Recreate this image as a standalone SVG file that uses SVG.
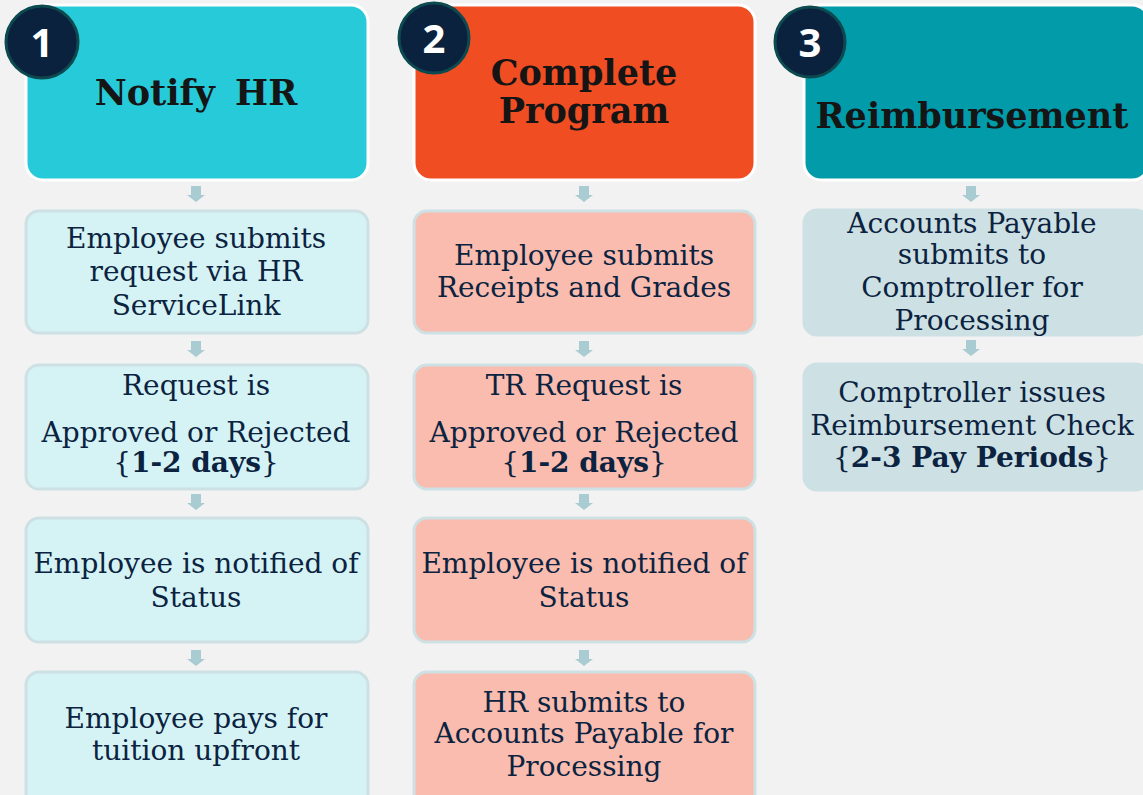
<svg xmlns="http://www.w3.org/2000/svg" width="1143" height="795" viewBox="0 0 1143 795">
<defs>
<style>
.bg{fill:#f2f2f2}
.hd{stroke:#ffffff;stroke-width:3}
.c1h{fill:#26cad8}.c2h{fill:#f04d23}.c3h{fill:#019baa}
.c1{fill:#d5f3f5;stroke:#cde0e3;stroke-width:3}
.c2{fill:#f9bcae;stroke:#cde0e3;stroke-width:3}
.c3{fill:#cde0e3;stroke:#cde0e3;stroke-width:3}
.t{font-family:"DejaVu Serif","Liberation Serif",serif;font-size:28px;fill:#0b2340;text-anchor:middle}
.b{font-weight:bold}
.h{font-family:"DejaVu Serif","Liberation Serif",serif;font-size:35px;font-weight:bold;fill:#151515;text-anchor:middle}
.badge{fill:#0b223f;stroke:#0d4a50;stroke-width:3}
.bn{font-family:"Open Sans","DejaVu Sans",sans-serif;font-size:40px;font-weight:bold;fill:#ffffff;text-anchor:middle}
.ar{fill:#a9cbd2}
</style>
<path id="arw" d="M-5,0 H5 V9 H9 L0,16 L-9,9 H-5 Z"/>
</defs>
<rect class="bg" x="0" y="0" width="1143" height="795"/>

<g id="connectors" class="ar">
<use href="#arw" x="196" y="186"/>
<use href="#arw" x="196" y="341"/>
<use href="#arw" x="196" y="494"/>
<use href="#arw" x="196" y="650"/>
<use href="#arw" x="584" y="186"/>
<use href="#arw" x="584" y="341"/>
<use href="#arw" x="584" y="494"/>
<use href="#arw" x="584" y="650"/>
<use href="#arw" x="971" y="186"/>
<use href="#arw" x="971" y="340"/>
</g>

<g id="header1">
<rect class="hd c1h" x="26" y="5" width="342" height="175" rx="17"/>
<text class="h" x="196" y="105" word-spacing="8">Notify HR</text>
</g>
<g id="header2">
<rect class="hd c2h" x="414" y="5" width="341" height="175" rx="17"/>
<text class="h" x="584" y="85">Complete</text>
<text class="h" x="584" y="123">Program</text>
</g>
<g id="header3">
<rect class="hd c3h" x="804" y="5" width="345" height="175" rx="17"/>
<text class="h" x="972" y="128">Reimbursement</text>
</g>

<g id="badge1"><circle class="badge" cx="42" cy="42" r="36"/><text class="bn" x="42" y="57">1</text></g>
<g id="badge2"><circle class="badge" cx="434" cy="38" r="35"/><text class="bn" x="434" y="53">2</text></g>
<g id="badge3"><circle class="badge" cx="810" cy="42" r="35"/><text class="bn" x="810" y="57">3</text></g>

<g id="n1a"><rect class="c1" x="26" y="211" width="342" height="122" rx="13"/>
<text class="t" x="196" y="248">Employee submits</text>
<text class="t" x="196" y="281">request via HR</text>
<text class="t" x="196" y="315">ServiceLink</text></g>
<g id="n1b"><rect class="c1" x="26" y="365" width="342" height="124" rx="13"/>
<text class="t" x="196" y="395">Request is</text>
<text class="t" x="196" y="442">Approved or Rejected</text>
<text class="t" x="196" y="472">{<tspan class="b">1-2 days</tspan>}</text></g>
<g id="n1c"><rect class="c1" x="26" y="518" width="342" height="124" rx="13"/>
<text class="t" x="196" y="573">Employee is notified of</text>
<text class="t" x="196" y="607">Status</text></g>
<g id="n1d"><rect class="c1" x="26" y="672" width="342" height="140" rx="13"/>
<text class="t" x="196" y="728">Employee pays for</text>
<text class="t" x="196" y="760">tuition upfront</text></g>

<g id="n2a"><rect class="c2" x="414" y="211" width="341" height="122" rx="13"/>
<text class="t" x="584" y="265">Employee submits</text>
<text class="t" x="584" y="297">Receipts and Grades</text></g>
<g id="n2b"><rect class="c2" x="414" y="365" width="341" height="124" rx="13"/>
<text class="t" x="584" y="395">TR Request is</text>
<text class="t" x="584" y="442">Approved or Rejected</text>
<text class="t" x="584" y="472">{<tspan class="b">1-2 days</tspan>}</text></g>
<g id="n2c"><rect class="c2" x="414" y="518" width="341" height="124" rx="13"/>
<text class="t" x="584" y="573">Employee is notified of</text>
<text class="t" x="584" y="607">Status</text></g>
<g id="n2d"><rect class="c2" x="414" y="672" width="341" height="140" rx="13"/>
<text class="t" x="584" y="712">HR submits to</text>
<text class="t" x="584" y="743">Accounts Payable for</text>
<text class="t" x="584" y="776">Processing</text></g>

<g id="n3a"><rect class="c3" x="804" y="210" width="345" height="125" rx="13"/>
<text class="t" x="972" y="233">Accounts Payable</text>
<text class="t" x="972" y="264">submits to</text>
<text class="t" x="972" y="297">Comptroller for</text>
<text class="t" x="972" y="330">Processing</text></g>
<g id="n3b"><rect class="c3" x="804" y="364" width="345" height="126" rx="13"/>
<text class="t" x="972" y="402">Comptroller issues</text>
<text class="t" x="972" y="435">Reimbursement Check</text>
<text class="t" x="972" y="467">{<tspan class="b">2-3 Pay Periods</tspan>}</text></g>
</svg>
